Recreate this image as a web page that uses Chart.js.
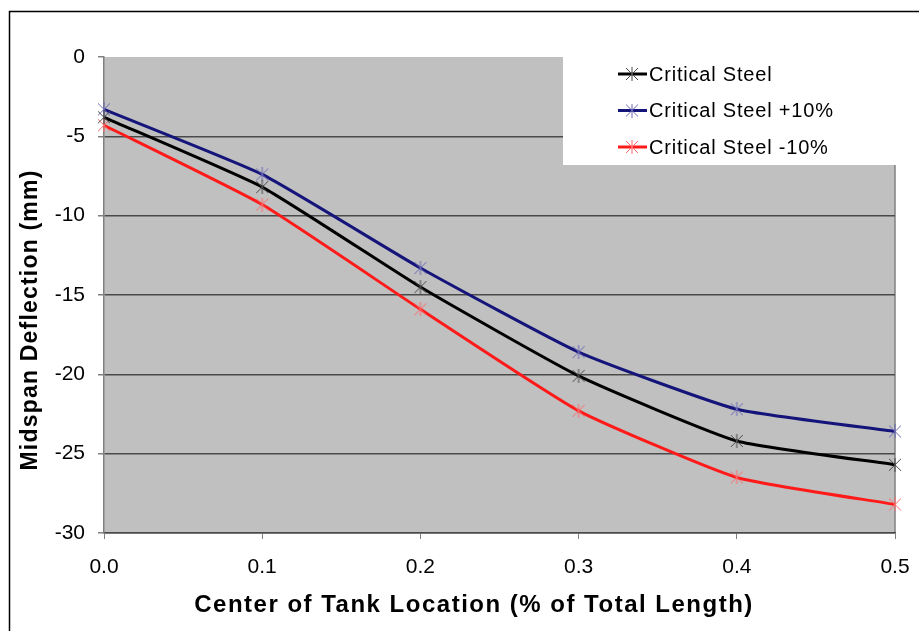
<!DOCTYPE html>
<html>
<head>
<meta charset="utf-8">
<script src="https://cdn.jsdelivr.net/npm/chart.js@4.4.1/dist/chart.umd.min.js"></script>
<style>
    html, body { margin: 0; padding: 0; background: #fff; }
    #wrap { width: 919px; height: 631px; }
</style>
</head>
<body>
<div id="wrap"><canvas id="deflectionChart" width="919" height="631"></canvas></div>
<script>
// Tank position along the span (fraction of total length)
const tankLocations = [0.0, 0.1, 0.2, 0.3, 0.4, 0.5];

// Midspan deflection (mm)
const criticalSteel = [-3.8, -8.2, -14.5, -20.1, -24.2, -25.7];
const criticalSteelPlus10 = [-3.3, -7.4, -13.3, -18.6, -22.2, -23.6];
const criticalSteelMinus10 = [-4.3, -9.3, -15.9, -22.3, -26.5, -28.2];

const seriesNames = ['Critical Steel', 'Critical Steel +10%', 'Critical Steel -10%'];
const yTicks = [0, -5, -10, -15, -20, -25, -30];

const COLORS = {
    black: '#000000',
    navy: '#14147a',
    red: '#ff1a1a',
    plotBg: '#c0c0c0',
    grid: '#4a4a4a',
    axis: '#808080'
};

const FONT = 'Arial, "Liberation Sans", sans-serif';

// Excel style star marker: an X with a vertical bar through it
function starMarker(color) {
    const c = document.createElement('canvas');
    c.width = 14;
    c.height = 14;
    const g = c.getContext('2d');
    g.strokeStyle = color;
    g.lineWidth = 1;
    g.beginPath();
    g.moveTo(1, 1); g.lineTo(13, 13);
    g.moveTo(13, 1); g.lineTo(1, 13);
    g.moveTo(7, 0); g.lineTo(7, 14);
    g.stroke();
    return c;
}

function toPoints(values) {
    return values.map((v, i) => ({ x: tankLocations[i], y: v }));
}

// grey plot background, right edge of plot, outer frame
const backgroundPlugin = {
    id: 'plotBackground',
    beforeDraw(chart) {
        const { ctx, chartArea } = chart;
        ctx.save();
        ctx.fillStyle = COLORS.plotBg;
        ctx.fillRect(chartArea.left, chartArea.top,
            chartArea.right - chartArea.left, chartArea.bottom - chartArea.top);
        ctx.strokeStyle = COLORS.axis;
        ctx.lineWidth = 1.5;
        ctx.beginPath();
        ctx.moveTo(chartArea.right, chartArea.top);
        ctx.lineTo(chartArea.right, chartArea.bottom);
        ctx.stroke();
        ctx.restore();
    },
    afterDraw(chart) {
        const ctx = chart.ctx;
        ctx.save();
        ctx.strokeStyle = '#000';
        ctx.lineWidth = 1.5;
        ctx.strokeRect(9.5, 11.5, 1000, 1000);
        ctx.restore();
    }
};

// legend box sitting inside the plot, top right
const legendPlugin = {
    id: 'boxLegend',
    beforeDatasetsDraw(chart) {
        const { ctx, chartArea } = chart;
        const boxLeft = 563;
        const boxTop = chartArea.top;
        ctx.save();
        ctx.fillStyle = '#fff';
        ctx.fillRect(boxLeft, boxTop, chartArea.right + 2 - boxLeft, 108);
        ctx.font = '20px ' + FONT;
        ctx.letterSpacing = '0.8px';
        ctx.textBaseline = 'middle';
        chart.data.datasets.forEach((ds, i) => {
            const y = boxTop + 17 + i * 36.5;
            ctx.strokeStyle = ds.borderColor;
            ctx.lineWidth = 3;
            ctx.beginPath();
            ctx.moveTo(618, y);
            ctx.lineTo(647, y);
            ctx.stroke();
            ctx.drawImage(ds.pointStyle, 625, y - 7);
            ctx.fillStyle = '#000';
            ctx.fillText(ds.label, 649, y + 1);
        });
        ctx.restore();
    }
};

// axis titles
const titlePlugin = {
    id: 'axisTitles',
    afterDraw(chart) {
        const ctx = chart.ctx;
        ctx.save();
        ctx.fillStyle = '#000';
        ctx.textAlign = 'center';
        ctx.textBaseline = 'middle';
        ctx.font = 'bold 24px ' + FONT;
        ctx.letterSpacing = '1.5px';
        ctx.fillText('Center of Tank Location (% of Total Length)', 474, 605);
        ctx.font = 'bold 23px ' + FONT;
        ctx.letterSpacing = '1.2px';
        ctx.translate(31, 320);
        ctx.rotate(-Math.PI / 2);
        ctx.fillText('Midspan Deflection (mm)', 0, 0);
        ctx.restore();
    }
};

function makeDataset(label, values, lineColor, markerColor) {
    return {
        label: label,
        data: toPoints(values),
        borderColor: lineColor,
        borderWidth: 3,
        pointStyle: starMarker(markerColor),
        pointRadius: 7,
        pointHoverRadius: 7,
        tension: 0.15,
        clip: false,
        fill: false
    };
}

function createDeflectionChart(canvasId) {
    const ctx = document.getElementById(canvasId);
    if (!ctx) {
        console.error(`Canvas element ${canvasId} not found`);
        return null;
    }

    return new Chart(ctx, {
        type: 'line',
        data: {
            datasets: [
                makeDataset(seriesNames[0], criticalSteel, COLORS.black, '#4a4a4a'),
                makeDataset(seriesNames[1], criticalSteelPlus10, COLORS.navy, '#6a6ab8'),
                makeDataset(seriesNames[2], criticalSteelMinus10, COLORS.red, '#ff6a6a')
            ]
        },
        options: {
            responsive: false,
            animation: false,
            devicePixelRatio: 1,
            layout: {
                padding: { top: 57, right: 24, left: 0, bottom: 0 }
            },
            plugins: {
                legend: { display: false },
                tooltip: { enabled: false }
            },
            scales: {
                x: {
                    type: 'linear',
                    min: 0,
                    max: 0.5,
                    afterFit: (scale) => {
                        scale.height = 98;
                        scale.paddingLeft = 0;
                        scale.paddingRight = 0;
                    },
                    afterBuildTicks: (scale) => {
                        scale.ticks = tankLocations.map(v => ({ value: v }));
                    },
                    ticks: {
                        color: '#000',
                        font: { family: FONT, size: 21 },
                        padding: 16,
                        maxRotation: 0,
                        callback: (value) => Number(value).toFixed(1)
                    },
                    grid: {
                        drawOnChartArea: false,
                        drawTicks: true,
                        tickLength: 6,
                        tickColor: COLORS.axis
                    },
                    border: { color: COLORS.grid, width: 1.5 }
                },
                y: {
                    type: 'linear',
                    min: -30,
                    max: 0,
                    afterFit: (scale) => {
                        scale.width = 104;
                        scale.paddingTop = 0;
                        scale.paddingBottom = 0;
                    },
                    afterBuildTicks: (scale) => {
                        scale.ticks = yTicks.map(v => ({ value: v }));
                    },
                    ticks: {
                        color: '#000',
                        font: { family: FONT, size: 21 },
                        padding: 13
                    },
                    grid: {
                        color: (c) => (c.tick && c.tick.value === 0 ? 'rgba(0,0,0,0)' : COLORS.grid),
                        lineWidth: 1.5,
                        tickLength: 6,
                        tickColor: COLORS.axis
                    },
                    border: { color: COLORS.axis, width: 1.5 }
                }
            }
        },
        plugins: [backgroundPlugin, legendPlugin, titlePlugin]
    });
}

document.addEventListener('DOMContentLoaded', () => createDeflectionChart('deflectionChart'));
</script>
</body>
</html>
